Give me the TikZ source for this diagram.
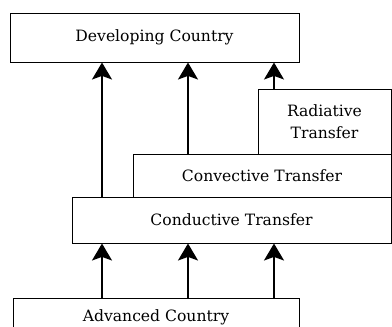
\documentclass[tikz,border=0pt]{standalone}
\usepackage{tikz}
\usepackage{fontspec}
\setmainfont{DejaVu Serif}
\usetikzlibrary{arrows.meta}

\begin{document}
\begin{tikzpicture}[x=0.5pt,y=-0.5pt,
  box/.style={draw,line width=0.5pt,inner sep=0pt,font=\fontsize{7.8}{11}\selectfont,align=center},
  up/.style={-{Stealth[length=8.5pt,width=10pt,inset=1.8pt]},line width=0.85pt}]
\clip (0,0) rectangle (392,327);
% boxes
\node[box,minimum width=144.5pt,minimum height=24.5pt] (dev) at (154.5,37.5) {Developing Country};
\node[box,minimum width=66.5pt,minimum height=32.5pt] (rad) at (324.5,121.5) {Radiative\\Transfer};
\node[box,minimum width=129pt,minimum height=21.5pt] (conv) at (262,175.5) {Convective Transfer};
\node[box,minimum width=159.5pt,minimum height=23pt] (cond) at (231.5,220) {Conductive Transfer};
\node[box,minimum width=143pt,minimum height=19pt] (adv) at (156,317) {Advanced Country};
% arrow columns
\coordinate (c1) at (102,0);
\coordinate (c2) at (188,0);
\coordinate (c3) at (274,0);
\draw[up] (cond.north -| c1) -- (dev.south -| c1);
\draw[up] (conv.north -| c2) -- (dev.south -| c2);
\draw[up,line width=0.6pt] (rad.north -| c3) -- (dev.south -| c3);
\foreach \c in {c1,c2,c3}
  \draw[up] (adv.north -| \c) -- (cond.south -| \c);
\end{tikzpicture}
\end{document}
